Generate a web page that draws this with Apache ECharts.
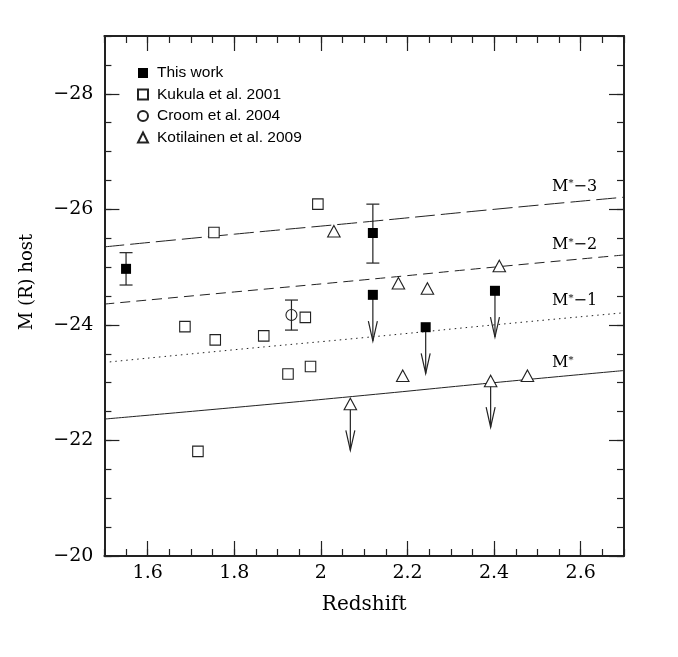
<!DOCTYPE html>
<html>
<head>
<meta charset="utf-8">
<title>M(R) host vs redshift</title>
<script src="https://cdn.jsdelivr.net/npm/echarts@6/dist/echarts.min.js"></script>
<style>
    html, body {margin: 0; padding: 0; background: #fff;}
    #main {width: 678px; height: 657px;}
</style>
</head>
<body>
<div id="main"></div>
<script>
    // [redshift, M(R) host]
    var thisWork = [[1.550, -24.97], [2.120, -25.59], [2.120, -24.52], [2.242, -23.96], [2.402, -24.59]];
    var thisWorkErr = [[1.550, -25.25, -24.69], [2.120, -26.09, -25.07]]; // [z, low, high]
    var thisWorkLim = [[2.120, -24.52], [2.242, -23.96], [2.402, -24.59]]; // upper limits
    var kukula = [[1.753, -25.60], [1.993, -26.09], [1.686, -23.97], [1.756, -23.74], [1.868, -23.81],
                  [1.964, -24.13], [1.924, -23.15], [1.976, -23.28], [1.716, -21.81]];
    var croom = [[1.932, -24.17]];
    var croomErr = [[1.932, -24.43, -23.91]];
    var kotilainen = [[2.030, -25.62], [2.068, -22.63], [2.179, -24.72], [2.246, -24.63], [2.412, -25.02],
                      [2.189, -23.12], [2.392, -23.03], [2.477, -23.12]];
    var kotilainenLim = [[2.068, -22.63], [2.392, -23.03]];

    // M* curves
    var zCurve = [1.5, 1.8, 2.1, 2.4, 2.7];
    var mStar = [-22.37, -22.57, -22.78, -23.00, -23.21];
    var mStar1 = [-23.35, -23.57, -23.78, -24.00, -24.21];
    var mStar2 = [-24.36, -24.57, -24.78, -25.00, -25.21];
    var mStar3 = [-25.35, -25.57, -25.78, -26.00, -26.21];

    var xTicks = [1.6, 1.8, 2.0, 2.2, 2.4, 2.6];
    var yTicks = [-28, -26, -24, -22, -20];

    var ink = '#222';
    var serif = 'DejaVu Serif';

    function pairs(ys) {
        var out = [];
        for (var i = 0; i < zCurve.length; i++) out.push([zCurve[i], ys[i]]);
        return out;
    }

    function errRender(params, api) {
        var x = api.value(0);
        var a = api.coord([x, api.value(1)]);
        var b = api.coord([x, api.value(2)]);
        var st = {stroke: ink, lineWidth: 1.2};
        return {type: 'group', children: [
            {type: 'line', shape: {x1: a[0], y1: a[1], x2: b[0], y2: b[1]}, style: st},
            {type: 'line', shape: {x1: a[0] - 6.5, y1: a[1], x2: a[0] + 6.5, y2: a[1]}, style: st},
            {type: 'line', shape: {x1: b[0] - 6.5, y1: b[1], x2: b[0] + 6.5, y2: b[1]}, style: st}
        ]};
    }

    function arrowRender(params, api) {
        var x = api.value(0), y = api.value(1);
        var p = api.coord([x, y]);
        var e = api.coord([x, y + 0.8]);
        var st = {stroke: ink, lineWidth: 1.2};
        return {type: 'group', children: [
            {type: 'line', shape: {x1: p[0], y1: p[1], x2: e[0], y2: e[1]}, style: st},
            {type: 'polyline', shape: {points: [[e[0] - 4.5, e[1] - 20], [e[0], e[1]], [e[0] + 4.5, e[1] - 20]]}, style: {stroke: ink, lineWidth: 1.2, fill: null}}
        ]};
    }

    function curveLabel(txt, z, m) {
        return {
            symbol: 'circle', symbolSize: 0, silent: true,
            label: {
                show: true, position: 'right', distance: 0, color: '#000',
                formatter: txt,
                rich: {
                    m: {fontFamily: serif, fontSize: 16, color: '#000'},
                    s: {fontFamily: serif, fontSize: 10, color: '#000', verticalAlign: 'top'}
                }
            },
            data: [{coord: [z, m]}]
        };
    }

    var chart = echarts.init(document.getElementById('main'));
    var option = {
        animation: false,
        backgroundColor: '#fff',
        grid: {left: 104.4, right: 54, top: 36, bottom: 101},
        legend: {
            orient: 'vertical', left: 132, top: 60,
            itemWidth: 10, itemHeight: 10, itemGap: 5.5,
            selectedMode: false,
            textStyle: {fontFamily: 'Liberation Sans', fontSize: 15.5, color: '#000', padding: [0, 0, 0, 4]},
            data: ['This work', 'Kukula et al. 2001', 'Croom et al. 2004', 'Kotilainen et al. 2009']
        },
        xAxis: [
            {
                type: 'value', position: 'bottom', min: 1.5, max: 2.7,
                name: 'Redshift', nameLocation: 'middle', nameGap: 39,
                nameTextStyle: {fontFamily: serif, fontSize: 20, color: '#000'},
                axisLine: {onZero: false, lineStyle: {color: ink, width: 2}},
                axisTick: {inside: true, length: 15, customValues: xTicks, lineStyle: {color: ink, width: 1.2}},
                axisLabel: {customValues: xTicks, margin: 8, fontFamily: serif, fontSize: 19, color: '#000',
                    formatter: function (v) { return String(+v.toFixed(2)); }},
                splitLine: {show: false}
            },
            {
                type: 'value', position: 'top', min: 1.5, max: 2.7,
                axisLine: {onZero: false, lineStyle: {color: ink, width: 2}},
                axisTick: {inside: true, length: 15, customValues: xTicks, lineStyle: {color: ink, width: 1.2}},
                axisLabel: {show: false}, splitLine: {show: false}
            },
            {
                type: 'value', position: 'bottom', min: 1.5, max: 2.7, interval: 0.05,
                axisLine: {show: false},
                axisTick: {inside: true, length: 7, lineStyle: {color: ink, width: 1.2}},
                axisLabel: {show: false}, splitLine: {show: false}
            },
            {
                type: 'value', position: 'top', min: 1.5, max: 2.7, interval: 0.05,
                axisLine: {show: false},
                axisTick: {inside: true, length: 7, lineStyle: {color: ink, width: 1.2}},
                axisLabel: {show: false}, splitLine: {show: false}
            }
        ],
        yAxis: [
            {
                type: 'value', position: 'left', min: -29, max: -20, inverse: true,
                name: 'M (R) host', nameLocation: 'middle', nameGap: 68, nameRotate: 90,
                nameTextStyle: {fontFamily: serif, fontSize: 18, color: '#000', padding: [0, 0, 0, 28]},
                axisLine: {onZero: false, lineStyle: {color: ink, width: 2}},
                axisTick: {inside: true, length: 15, customValues: yTicks, lineStyle: {color: ink, width: 1.2}},
                axisLabel: {customValues: yTicks, margin: 11, fontFamily: serif, fontSize: 19, color: '#000',
                    formatter: function (v) { return v < 0 ? '\u2212' + Math.abs(v) : String(v); }},
                splitLine: {show: false}
            },
            {
                type: 'value', position: 'right', min: -29, max: -20, inverse: true,
                axisLine: {onZero: false, lineStyle: {color: ink, width: 2}},
                axisTick: {inside: true, length: 15, customValues: yTicks, lineStyle: {color: ink, width: 1.2}},
                axisLabel: {show: false}, splitLine: {show: false}
            },
            {
                type: 'value', position: 'left', min: -29, max: -20, inverse: true, interval: 0.5,
                axisLine: {show: false},
                axisTick: {inside: true, length: 7, lineStyle: {color: ink, width: 1.2}},
                axisLabel: {show: false}, splitLine: {show: false}
            },
            {
                type: 'value', position: 'right', min: -29, max: -20, inverse: true, interval: 0.5,
                axisLine: {show: false},
                axisTick: {inside: true, length: 7, lineStyle: {color: ink, width: 1.2}},
                axisLabel: {show: false}, splitLine: {show: false}
            }
        ],
        series: [
            {type: 'line', name: 'M*', data: pairs(mStar), smooth: true, symbol: 'none', z: 1, silent: true,
                lineStyle: {color: ink, width: 1, type: 'solid'},
                markPoint: curveLabel('{m|M}{s|*}', 2.534, -23.34)},
            {type: 'line', name: 'M*-1', data: pairs(mStar1), smooth: true, symbol: 'none', z: 1, silent: true,
                lineStyle: {color: ink, width: 1, type: [1.5, 4]},
                markPoint: curveLabel('{m|M}{s|*}{m|\u22121}', 2.534, -24.41)},
            {type: 'line', name: 'M*-2', data: pairs(mStar2), smooth: true, symbol: 'none', z: 1, silent: true,
                lineStyle: {color: ink, width: 1, type: [10, 6]},
                markPoint: curveLabel('{m|M}{s|*}{m|\u22122}', 2.534, -25.38)},
            {type: 'line', name: 'M*-3', data: pairs(mStar3), smooth: true, symbol: 'none', z: 1, silent: true,
                lineStyle: {color: ink, width: 1, type: [20, 6]},
                markPoint: curveLabel('{m|M}{s|*}{m|\u22123}', 2.534, -26.39)},

            {type: 'custom', renderItem: errRender, data: thisWorkErr, encode: {x: 0, y: [1, 2]}, z: 2, silent: true},
            {type: 'custom', renderItem: errRender, data: croomErr, encode: {x: 0, y: [1, 2]}, z: 2, silent: true},
            {type: 'custom', renderItem: arrowRender, data: thisWorkLim, encode: {x: 0, y: 1}, z: 2, silent: true},
            {type: 'custom', renderItem: arrowRender, data: kotilainenLim, encode: {x: 0, y: 1}, z: 2, silent: true},

            {type: 'scatter', name: 'This work', data: thisWork, symbol: 'rect', symbolSize: 10, z: 3,
                itemStyle: {color: '#000', opacity: 1}},
            {type: 'scatter', name: 'Kukula et al. 2001', data: kukula, symbol: 'rect', symbolSize: 10.5, z: 3,
                itemStyle: {color: '#fff', borderColor: ink, borderWidth: 1.1, opacity: 1}},
            {type: 'scatter', name: 'Croom et al. 2004', data: croom, symbol: 'circle', symbolSize: 11, z: 3,
                itemStyle: {color: 'rgba(255,255,255,0)', borderColor: ink, borderWidth: 1.1, opacity: 1}},
            {type: 'scatter', name: 'Kotilainen et al. 2009', data: kotilainen, symbol: 'triangle', symbolSize: [12.5, 11.5], z: 3,
                itemStyle: {color: '#fff', borderColor: ink, borderWidth: 1.1, opacity: 1}}
        ]
    };
    chart.setOption(option);
</script>
</body>
</html>
